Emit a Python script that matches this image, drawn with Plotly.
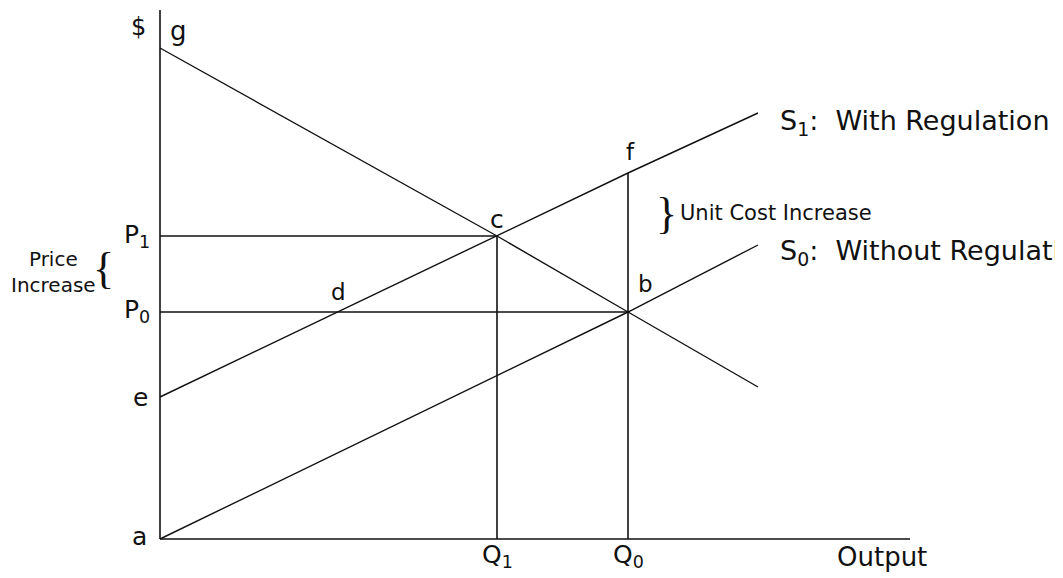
import plotly.graph_objects as go

# quantities and prices (origin at point a)
q1 = 337
q0 = 468
p1 = 303
p0 = 227
price_top = 529
output_max = 750

demand_q = [0, 337, 468, 598]
demand_p = [491, 303, 227, 152]

s1_q = [0, 337, 468, 598]
s1_p = [142, 303, 366, 426]

s0_q = [0, 468, 598]
s0_p = [0, 227, 294]

font = "DejaVu Sans, Arial, sans-serif"
ink = "#111111"

fig = go.Figure()


def add_line(x, y, width=1.4):
    fig.add_trace(go.Scatter(
        x=x,
        y=y,
        mode='lines',
        line=dict(color=ink, width=width),
        showlegend=False,
        hoverinfo='skip'
    ))


# axes
add_line([0, 0], [0, price_top], 1.6)
add_line([0, output_max], [0, 0], 1.6)

# curves
add_line(demand_q, demand_p)
add_line(s1_q, s1_p)
add_line(s0_q, s0_p)

# price and quantity guides
add_line([0, q1], [p1, p1], 1.6)
add_line([0, q0], [p0, p0], 1.6)
add_line([q1, q1], [0, p1], 1.6)
add_line([q0, q0], [0, s1_p[2]], 1.6)


def label(x, y, text, size=24, xanchor='center', family=font):
    fig.add_annotation(
        x=x, y=y, text=text, showarrow=False,
        xanchor=xanchor, yanchor='middle',
        font=dict(family=family, size=size, color=ink)
    )


label(-22, 512, "$", 24)
label(18, 508, "g", 26)
label(-23, p1, "P<sub>1</sub>", 25)
label(-23, p0 + 1, "P<sub>0</sub>", 25)
label(-20, s1_p[0], "e", 25)
label(-21, 3, "a", 25)
label(178, p0 + 20, "d", 23)
label(q1, p1 + 17, "c", 25)
label(q0 + 17, p0 + 28, "b", 23)
label(q0 + 2, s1_p[2] + 21, "f", 23)
label(q1, -17, "Q<sub>1</sub>", 25)
label(q0, -17, "Q<sub>0</sub>", 25)
label(675, -18, "Output", 26, xanchor='left')

# braces
label(-57, 271, "{", 44, family="Liberation Serif, Times New Roman, serif")
label(-107, 267, "Price<br>Increase", 20)
label(506, 326, "}", 44, family="Liberation Serif, Times New Roman, serif")
label(518, 326, "Unit Cost Increase", 21, xanchor='left')

label(618, s1_p[3] - 9, "S<sub>1</sub>:  With Regulation", 27, xanchor='left')
label(618, s0_p[2] - 7, "S<sub>0</sub>:  Without Regulation", 27, xanchor='left')

# page body adds an 8px offset, so ranges are shifted to compensate
fig.update_xaxes(range=[-152, 911], visible=False)
fig.update_yaxes(range=[-47, 531], visible=False)

fig.update_layout(
    width=1063,
    height=578,
    margin=dict(l=0, r=0, t=0, b=0),
    paper_bgcolor="white",
    plot_bgcolor="white",
    showlegend=False
)

fig.write_html("out.html")
